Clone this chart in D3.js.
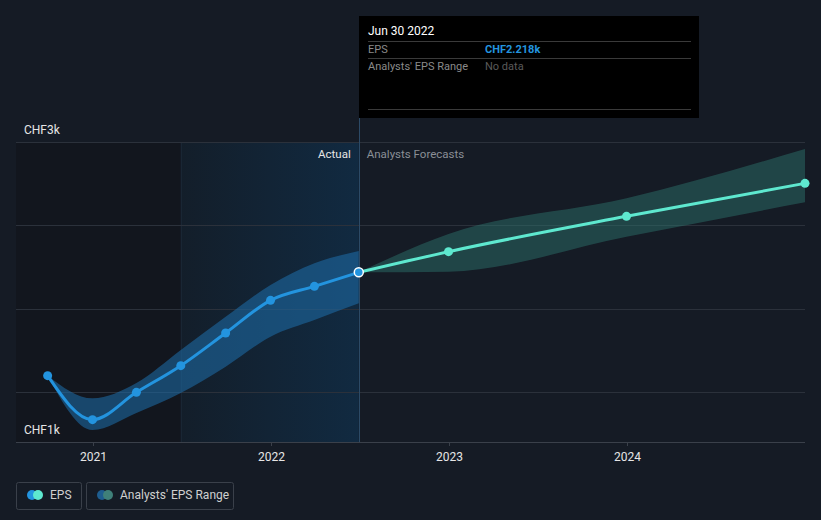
<!DOCTYPE html>
<html><head><meta charset="utf-8">
<script src="https://cdn.jsdelivr.net/npm/d3@7"></script>
<style>
html,body{margin:0;padding:0;background:#151b25;}
svg{display:block;font-family:Roboto,"Noto Sans",sans-serif;}
</style></head>
<body>
<svg id="c" width="821" height="520"></svg>
<script>
// ---- data ----
const actualDates = ["2020-09-30","2020-12-31","2021-03-31","2021-06-30","2021-09-30","2021-12-31","2022-03-31","2022-06-30"];
const actualEps   = [1598, 1334, 1498, 1658, 1854, 2050, 2134, 2218];
const actualHigh  = [1598, 1462, 1554, 1752, 1952, 2142, 2272, 2346];
const actualLow   = [1598, 1272, 1374, 1494, 1652, 1832, 1932, 2032];
const forecastDates = ["2022-06-30","2022-12-31","2023-12-31","2024-12-31"];
const forecastEps   = [2218, 2342, 2554, 2752];
const forecastHigh  = [2218, 2448, 2662, 2958];
const forecastLow   = [2218, 2222, 2432, 2638];
const yTicks = [3000, 2500, 2000, 1500];
const yLabels = ["CHF3k", "CHF1k"];
const xTicks = ["2021-01-01","2022-01-01","2023-01-01","2024-01-01"];
const xTickLabels = ["2021","2022","2023","2024"];
const tooltipDate = "Jun 30 2022";
const tooltipEps = "CHF2.218k";
const legendItems = ["EPS","Analysts' EPS Range"];

const P = d3.timeParse("%Y-%m-%d");
const svg = d3.select("#c");
const L = 16, R = 805, T = 142, B = 442;
const x = d3.scaleTime().domain([P("2021-01-01"), P("2024-01-01")])
  .range([93, 93 + 3*178]);
const y = d3.scaleLinear().domain([1200, 3000]).range([B, T]);
const splitX = x(P("2022-06-30"));
const pastX = x(P("2021-07-01"));

const defs = svg.append("defs");
const g1 = defs.append("linearGradient").attr("id","pastGrad").attr("x1","0").attr("x2","1").attr("y1","0").attr("y2","0");
g1.append("stop").attr("offset","0").attr("stop-color","#131e2a");
g1.append("stop").attr("offset","1").attr("stop-color","#112a41");

// dark past area
svg.append("rect").attr("x",L).attr("y",T).attr("width",pastX-L).attr("height",B-T).attr("fill","#12161e");
svg.append("rect").attr("x",pastX).attr("y",T).attr("width",splitX-pastX).attr("height",B-T).attr("fill","url(#pastGrad)");
svg.append("line").attr("x1",pastX).attr("x2",pastX).attr("y1",T).attr("y2",B).attr("stroke","#1c2a38").attr("stroke-width",1);

// gridlines
svg.append("g").selectAll("line").data(yTicks).join("line")
  .attr("x1",L).attr("x2",R).attr("y1",d=>Math.round(y(d))+0.5).attr("y2",d=>Math.round(y(d))+0.5)
  .attr("stroke","#2b313b").attr("stroke-width",1);

// x axis
const xa = svg.append("g").attr("transform",`translate(0,${B})`)
  .call(d3.axisBottom(x).tickValues(xTicks.map(P)).tickFormat((d,i)=>xTickLabels[i]).tickSize(4).tickPadding(6));
xa.select(".domain").remove();
xa.append("line").attr("x1",L).attr("x2",R).attr("y1",0.5).attr("y2",0.5).attr("stroke","#3a404a");
xa.selectAll(".tick line").attr("stroke","#3a404a");
xa.selectAll(".tick text").attr("fill","#e6e6e6").attr("font-size",12).attr("font-family","Roboto,sans-serif");

// y labels
svg.append("text").attr("x",24).attr("y",134).attr("fill","#e6e6e6").attr("font-size",12).text(yLabels[0]);
svg.append("text").attr("x",24).attr("y",434).attr("fill","#e6e6e6").attr("font-size",12).text(yLabels[1]);

// bands
const actual = actualDates.map((d,i)=>({d:P(d),v:actualEps[i],h:actualHigh[i],l:actualLow[i]}));
const fc = forecastDates.map((d,i)=>({d:P(d),v:forecastEps[i],h:forecastHigh[i],l:forecastLow[i]}));
const area = d3.area().x(d=>x(d.d)).y0(d=>y(d.l)).y1(d=>y(d.h)).curve(d3.curveMonotoneX);
const line = d3.line().x(d=>x(d.d)).y(d=>y(d.v)).curve(d3.curveMonotoneX);
svg.append("path").datum(actual).attr("d",area).attr("fill","#1e6aa6").attr("fill-opacity",0.58);
svg.append("path").datum(fc).attr("d",area).attr("fill","#2f7a72").attr("fill-opacity",0.45);

// split line
svg.append("line").attr("x1",Math.round(splitX)+0.5).attr("x2",Math.round(splitX)+0.5).attr("y1",17).attr("y2",B)
  .attr("stroke","#2c4a66").attr("stroke-width",1);

// lines
svg.append("path").datum(actual).attr("d",line).attr("fill","none").attr("stroke","#2394df").attr("stroke-width",3);
svg.append("path").datum(fc).attr("d",line).attr("fill","none").attr("stroke","#5ee8cf").attr("stroke-width",3);
svg.append("g").selectAll("circle").data(actual.slice(0,-1)).join("circle")
  .attr("cx",d=>x(d.d)).attr("cy",d=>y(d.v)).attr("r",4.5).attr("fill","#2394df");
svg.append("g").selectAll("circle").data(fc.slice(1)).join("circle")
  .attr("cx",d=>x(d.d)).attr("cy",d=>y(d.v)).attr("r",4.5).attr("fill","#5ee8cf");
const last = actual[actual.length-1];
svg.append("circle").attr("cx",x(last.d)).attr("cy",y(last.v)).attr("r",4.5)
  .attr("fill","#2394df").attr("stroke","#ffffff").attr("stroke-width",1.5);

// Actual / Forecast labels
svg.append("text").attr("x",splitX-8).attr("y",158).attr("text-anchor","end").attr("fill","#e6e6e6").attr("font-size",11.5).text("Actual");
svg.append("text").attr("x",splitX+8).attr("y",158).attr("fill","#8a8f96").attr("font-size",11.5).text("Analysts Forecasts");

// tooltip
const tt = svg.append("g");
tt.append("rect").attr("x",359).attr("y",16).attr("width",340).attr("height",102).attr("fill","#000000");
tt.append("text").attr("x",368).attr("y",35).attr("fill","#ffffff").attr("font-size",12).text(tooltipDate);
tt.append("line").attr("x1",368).attr("x2",691).attr("y1",41.5).attr("y2",41.5).attr("stroke","#3a3a3a");
tt.append("text").attr("x",368).attr("y",53).attr("fill","#8a8a8a").attr("font-size",11).text("EPS");
tt.append("text").attr("x",485).attr("y",53).attr("fill","#2394df").attr("font-size",11).attr("font-weight","bold").text(tooltipEps);
tt.append("line").attr("x1",368).attr("x2",691).attr("y1",58.5).attr("y2",58.5).attr("stroke","#3a3a3a");
tt.append("text").attr("x",368).attr("y",70).attr("fill","#8a8a8a").attr("font-size",11).text("Analysts' EPS Range");
tt.append("text").attr("x",485).attr("y",70).attr("fill","#5a5a5a").attr("font-size",11).text("No data");
tt.append("line").attr("x1",368).attr("x2",691).attr("y1",109.5).attr("y2",109.5).attr("stroke","#3a3a3a");

// legend
const lg = svg.append("g");
lg.append("rect").attr("x",16.5).attr("y",482.5).attr("width",65).attr("height",27).attr("rx",2).attr("fill","none").attr("stroke","#3a404a");
lg.append("circle").attr("cx",32).attr("cy",495).attr("r",5).attr("fill","#2394df");
lg.append("circle").attr("cx",38).attr("cy",495).attr("r",5).attr("fill","#5ee8cf");
lg.append("text").attr("x",50).attr("y",499).attr("fill","#d0d0d0").attr("font-size",12).text(legendItems[0]);
lg.append("rect").attr("x",86.5).attr("y",482.5).attr("width",147).attr("height",27).attr("rx",2).attr("fill","none").attr("stroke","#3a404a");
lg.append("circle").attr("cx",102).attr("cy",495).attr("r",5).attr("fill","#1e5d8f");
lg.append("circle").attr("cx",108).attr("cy",495).attr("r",5).attr("fill","#3f8079");
lg.append("text").attr("x",120).attr("y",499).attr("fill","#d0d0d0").attr("font-size",12).text(legendItems[1]);
</script>
</body></html>
